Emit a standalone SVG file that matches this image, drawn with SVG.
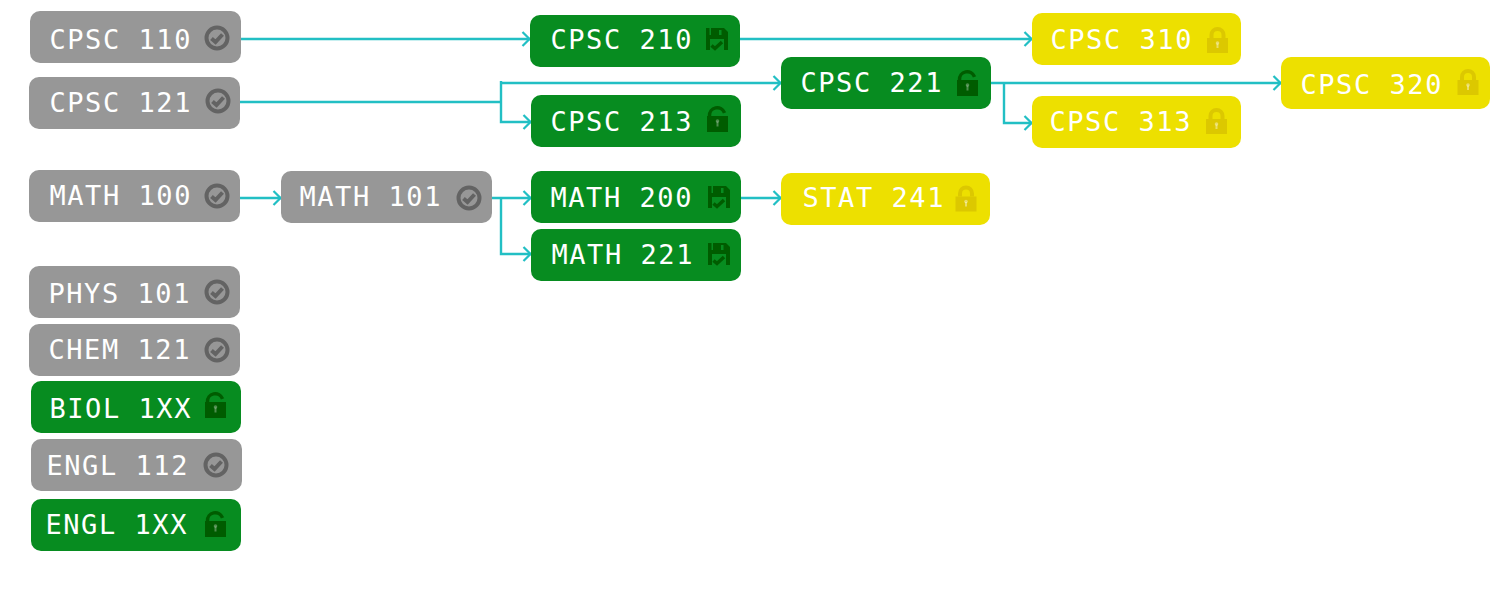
<svg xmlns="http://www.w3.org/2000/svg" width="1500" height="590" viewBox="0 0 1500 590">
<style>
.g rect.b{fill:#979797;width:211px}.a rect.b{fill:#078c20;width:210px}.y rect.b{fill:#ede000;width:209px}
rect.b{height:52px}
text{font-family:"DejaVu Sans Mono","Liberation Mono",monospace;font-size:27px;letter-spacing:1.55px;fill:#fff}
.g .i{color:#636363}.a .i{color:#005c00}.y .i{color:#dcc800}
.c{fill:none;stroke:#22bfc4;stroke-width:2.400}
</style>
<defs>
<marker id="h" markerUnits="userSpaceOnUse" markerWidth="12" markerHeight="18" refX="10.500" refY="9" orient="auto"><path d="M3 2L10 9L3 16" fill="none" stroke="#22bfc4" stroke-width="2.200"/></marker>
<g id="check"><circle r="10.500" fill="none" stroke="currentColor" stroke-width="4"/><path d="M-5.500 0.500L-1.500 4L5.500 -3.500" fill="none" stroke="currentColor" stroke-width="4"/></g>
<g id="lock"><rect x="-10.500" y="-2" width="21" height="15" fill="currentColor"/><path d="M-6 -2V-5a6 6 0 0 1 12 0V-2" fill="none" stroke="currentColor" stroke-width="4"/><path d="M-1 3.500h2v4.500h-2z" fill="#fff" fill-opacity=".4"/><circle cy="3" r="1.800" fill="#fff" fill-opacity=".4"/></g>
<g id="open"><rect x="-10.500" y="-3" width="21" height="16" fill="currentColor"/><path d="M-8 -3A7.750 7.750 0 0 1 7.030 -6.150" fill="none" stroke="currentColor" stroke-width="3.500"/><path d="M-1 2.500h2v5h-2z" fill="#fff" fill-opacity=".3"/><circle cy="2" r="1.800" fill="#fff" fill-opacity=".3"/></g>
<g id="disk"><path fill-rule="evenodd" d="M-11 -11H7L11 -7V11H7V0H-7V11H-11ZM-7.500 -11H-6V-4H-7.500ZM2 -9H4.500V-4H2Z" fill="currentColor"/><path d="M-5.500 6.500L-2 9.500L5 3" fill="none" stroke="currentColor" stroke-width="3.500"/></g>
</defs>
<g id="connectors" class="c">
<path d="M241 39H530" marker-end="url(#h)"/>
<path d="M240 102H501"/>
<path d="M501 83H781" marker-end="url(#h)"/>
<path d="M501 81V122H531" marker-end="url(#h)"/>
<path d="M740 39H1032" marker-end="url(#h)"/>
<path d="M991 83H1281" marker-end="url(#h)"/>
<path d="M1004 83V123H1032" marker-end="url(#h)"/>
<path d="M240 198H281" marker-end="url(#h)"/>
<path d="M492 198H531" marker-end="url(#h)"/>
<path d="M501 198V254H531" marker-end="url(#h)"/>
<path d="M741 198H781" marker-end="url(#h)"/>
</g>
<g id="cpsc110" class="g"><rect class="b" x="30" y="11" rx="10"/><text x="49.500" y="49">CPSC 110</text><use class="i" href="#check" x="217" y="38"/></g>
<g id="cpsc121" class="g"><rect class="b" x="29" y="77" rx="10"/><text x="49.500" y="112">CPSC 121</text><use class="i" href="#check" x="218" y="101"/></g>
<g id="cpsc210" class="a"><rect class="b" x="530" y="15" rx="10"/><text x="550.500" y="49">CPSC 210</text><use class="i" href="#disk" x="717" y="39"/></g>
<g id="cpsc213" class="a"><rect class="b" x="531" y="95" rx="10"/><text x="550.500" y="131">CPSC 213</text><use class="i" href="#open" x="717.500" y="119"/></g>
<g id="cpsc221" class="a"><rect class="b" x="781" y="57" rx="10"/><text x="800.500" y="92">CPSC 221</text><use class="i" href="#open" x="967.500" y="83"/></g>
<g id="cpsc310" class="y"><rect class="b" x="1032" y="13" rx="10"/><text x="1050.500" y="49">CPSC 310</text><use class="i" href="#lock" x="1217.500" y="40"/></g>
<g id="cpsc313" class="y"><rect class="b" x="1032" y="96" rx="10"/><text x="1049.500" y="131">CPSC 313</text><use class="i" href="#lock" x="1216.500" y="121"/></g>
<g id="cpsc320" class="y"><rect class="b" x="1281" y="57" rx="10"/><text x="1300.500" y="94">CPSC 320</text><use class="i" href="#lock" x="1468" y="82"/></g>
<g id="math100" class="g"><rect class="b" x="29" y="170" rx="10"/><text x="49.500" y="205">MATH 100</text><use class="i" href="#check" x="217" y="196"/></g>
<g id="math101" class="g"><rect class="b" x="281" y="171" rx="10"/><text x="299.500" y="206">MATH 101</text><use class="i" href="#check" x="469" y="198"/></g>
<g id="math200" class="a"><rect class="b" x="531" y="171" rx="10"/><text x="550.500" y="207">MATH 200</text><use class="i" href="#disk" x="719" y="197"/></g>
<g id="math221" class="a"><rect class="b" x="531" y="229" rx="10"/><text x="551.500" y="264">MATH 221</text><use class="i" href="#disk" x="719" y="254"/></g>
<g id="stat241" class="y"><rect class="b" x="781" y="173" rx="10"/><text x="802.500" y="207">STAT 241</text><use class="i" href="#lock" x="966" y="198.500"/></g>
<g id="phys101" class="g"><rect class="b" x="29" y="266" rx="10"/><text x="48.500" y="303">PHYS 101</text><use class="i" href="#check" x="217" y="292"/></g>
<g id="chem121" class="g"><rect class="b" x="29" y="324" rx="10"/><text x="48.500" y="359">CHEM 121</text><use class="i" href="#check" x="217" y="350"/></g>
<g id="biol1xx" class="a"><rect class="b" x="31" y="381" rx="10"/><text x="49.500" y="418">BIOL 1XX</text><use class="i" href="#open" x="215.500" y="405"/></g>
<g id="engl112" class="g"><rect class="b" x="31" y="439" rx="10"/><text x="46.500" y="475">ENGL 112</text><use class="i" href="#check" x="216" y="465"/></g>
<g id="engl1xx" class="a"><rect class="b" x="31" y="499" rx="10"/><text x="45.500" y="534">ENGL 1XX</text><use class="i" href="#open" x="215.500" y="524"/></g>
</svg>
